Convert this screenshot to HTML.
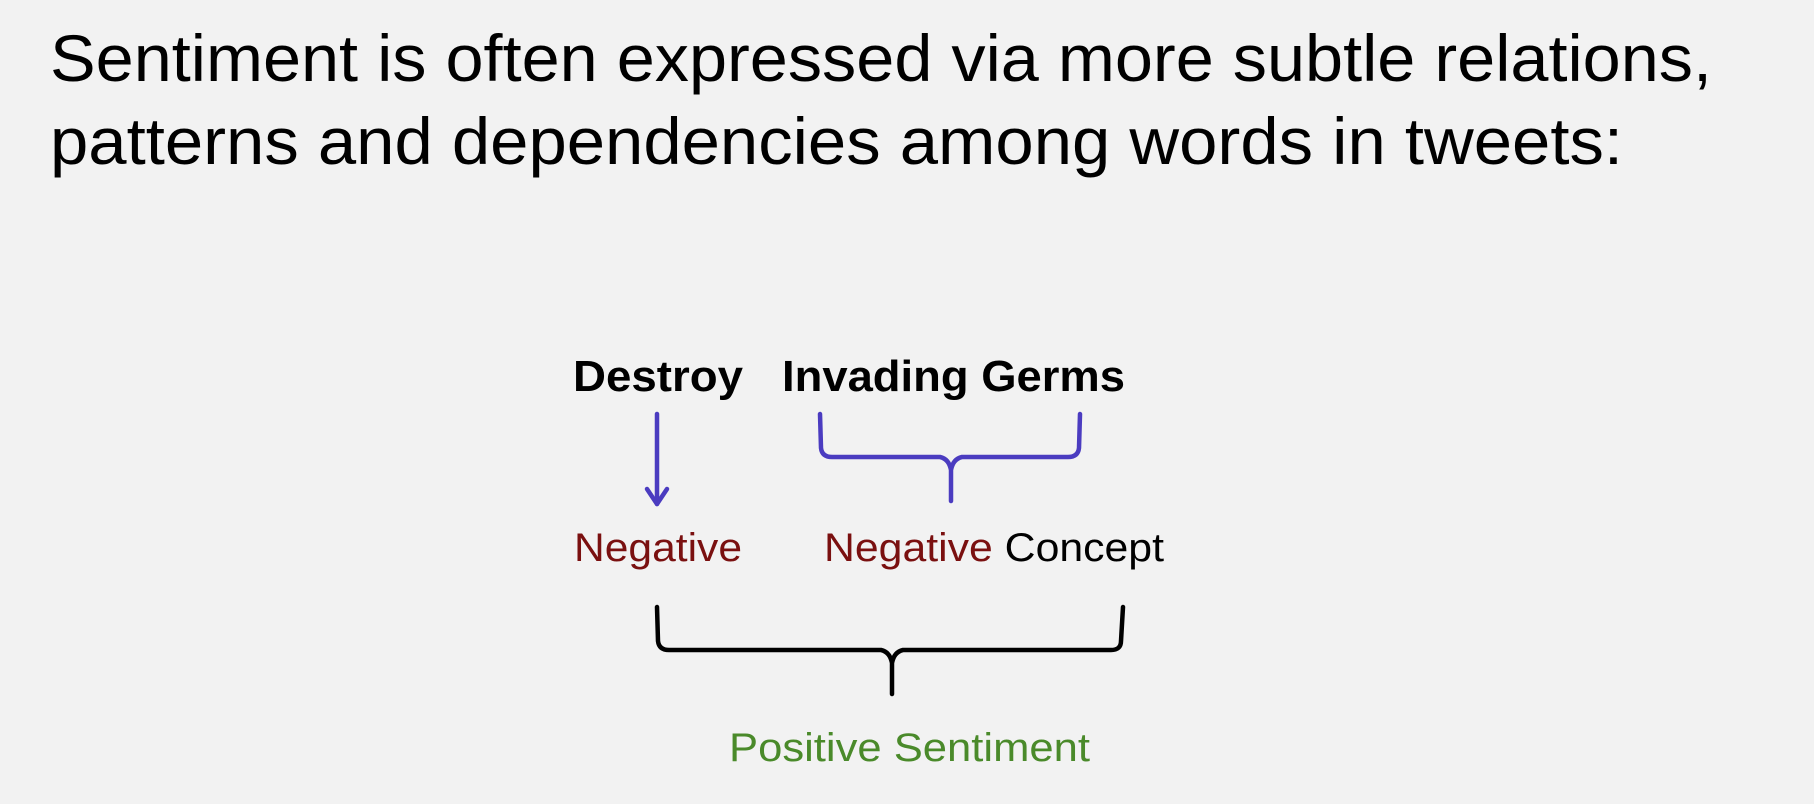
<!DOCTYPE html>
<html><head><meta charset="utf-8"><style>
html,body{margin:0;padding:0;background:#f2f2f2;}
svg{display:block;}
text{font-family:"Liberation Sans",sans-serif;}
</style></head><body>
<svg width="1814" height="804" viewBox="0 0 1814 804" xmlns="http://www.w3.org/2000/svg">
<rect width="1814" height="804" fill="#f2f2f2"/>
<text x="50" y="81" font-size="66" fill="#000" textLength="1662" lengthAdjust="spacingAndGlyphs">Sentiment is often expressed via more subtle relations,</text>
<text x="50" y="164" font-size="66" fill="#000" textLength="1573" lengthAdjust="spacingAndGlyphs">patterns and dependencies among words in tweets:</text>

<text x="573" y="391" font-size="44" font-weight="bold" fill="#000" textLength="170" lengthAdjust="spacingAndGlyphs">Destroy</text>
<text x="782" y="391" font-size="44" font-weight="bold" fill="#000" textLength="343" lengthAdjust="spacingAndGlyphs">Invading Germs</text>

<g stroke="#4b3cc0" stroke-width="4.5" fill="none" stroke-linecap="round" stroke-linejoin="round">
<line x1="657" y1="414" x2="657" y2="504"/>
<polyline points="647,489 657,504 667,489"/>
<path d="M820,414 L821,448 Q822,457 832,457 L940,457 Q949,459 951,470 L951,501 M951,470 Q953,459 962,457 L1068,457 Q1078,457 1079,448 L1080,414"/>
</g>

<text x="574" y="561" font-size="40" fill="#7a1010" textLength="168" lengthAdjust="spacingAndGlyphs">Negative</text>
<text x="824" y="561" font-size="40" textLength="340" lengthAdjust="spacingAndGlyphs"><tspan fill="#7a1010">Negative</tspan><tspan fill="#000"> Concept</tspan></text>

<g stroke="#000" stroke-width="4.5" fill="none" stroke-linecap="round" stroke-linejoin="round">
<path d="M657,607 L658,641 Q659,650 669,650 L881,650 Q890,652 892,663 L892,694 M892,663 Q894,652 903,650 L1111,650 Q1121,650 1121,641 L1123,607"/>
</g>

<text x="729" y="761" font-size="40" fill="#4a8a2a" textLength="361" lengthAdjust="spacingAndGlyphs">Positive Sentiment</text>
</svg>
</body></html>
